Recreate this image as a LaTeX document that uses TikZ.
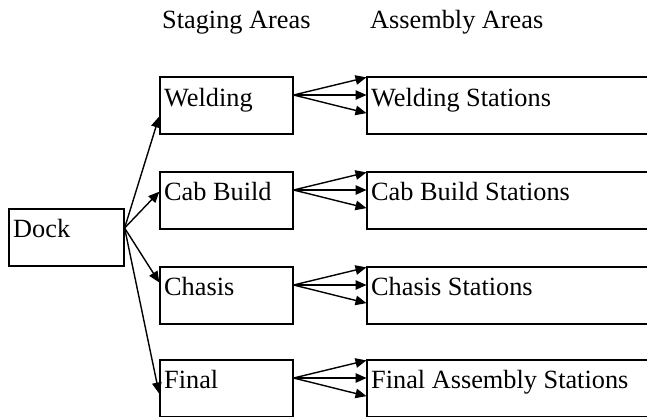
\documentclass[tikz,border=0pt]{standalone}
\usepackage{fontspec}
\setmainfont{Liberation Serif}
\usetikzlibrary{arrows.meta,calc}
\tikzset{
  box/.style={draw, line width=1.6pt, rectangle, inner sep=0pt, anchor=north west, minimum height=57pt},
  stagebox/.style={box, minimum width=133pt},
  asmbox/.style={box, minimum width=330pt},
  lbl/.style={inner sep=0pt, anchor=base west, font=\fontsize{26.3}{30}\selectfont},
  arr/.style={line width=1.4pt, -{Triangle[length=11pt,width=9.5pt]}, shorten >=-0.5pt}
}
\begin{document}
\begin{tikzpicture}[x=1pt,y=-1pt]
\useasboundingbox (0,0) rectangle (647,416);
\clip (0,0) rectangle (647,416);
% headers
\node[lbl] (hstage) at (162,28) {Staging Areas};
\node[lbl] (hasm) at (370,28) {Assembly Areas};
% dock
\node[box, minimum width=115pt] (dock) at (8,208) {};
\node[lbl] (dockt) at ($(dock.north west)+(5,29)$) {Dock};
% staging boxes
\node[stagebox] (weld) at (159,76) {};
\node[stagebox] (cab) at (159,171) {};
\node[stagebox] (chas) at (159,266) {};
\node[stagebox] (fin) at (159,359) {};
\node[lbl] (weldt) at ($(weld.north west)+(5,30)$) {Welding};
\node[lbl] (cabt) at ($(cab.north west)+(5,29.5)$) {Cab Build};
\node[lbl] (chast) at ($(chas.north west)+(5,29.5)$) {Chasis};
\node[lbl] (fint) at ($(fin.north west)+(5,29.5)$) {Final};
% assembly boxes
\node[asmbox] (weldA) at (366,76) {};
\node[asmbox] (cabA) at (366,171) {};
\node[asmbox] (chasA) at (366,266) {};
\node[asmbox] (finA) at (366,359) {};
\node[lbl] (weldAt) at ($(weldA.north west)+(5,30)$) {Welding Stations};
\node[lbl] (cabAt) at ($(cabA.north west)+(5,29.5)$) {Cab Build Stations};
\node[lbl] (chasAt) at ($(chasA.north west)+(5,29.5)$) {Chasis Stations};
\node[lbl] (finAt) at ($(finA.north west)+(5,29.5)$) {Final Assembly Stations};
% dock arrows
\coordinate (dsrc) at ($(dock.north east)+(0,20)$);
\draw[arr] (dsrc) -- ($(weld.north west)+(0,41)$);
\draw[arr] (dsrc) -- ($(cab.north west)+(0,21)$);
\draw[arr] (dsrc) -- ($(chas.north west)+(0,16)$);
\draw[arr] (dsrc) -- ($(fin.north west)+(0,34)$);
% staging to assembly arrows
\foreach \s/\a in {weld/weldA, cab/cabA, chas/chasA, fin/finA}{
  \coordinate (src\s) at ($(\s.north east)+(0,19)$);
  \draw[arr] (src\s) -- ($(\a.north west)+(0,1.5)$);
  \draw[arr] (src\s) -- ($(\a.north west)+(0,19)$);
  \draw[arr] (src\s) -- ($(\a.north west)+(0,37)$);
}
\end{tikzpicture}
\end{document}
